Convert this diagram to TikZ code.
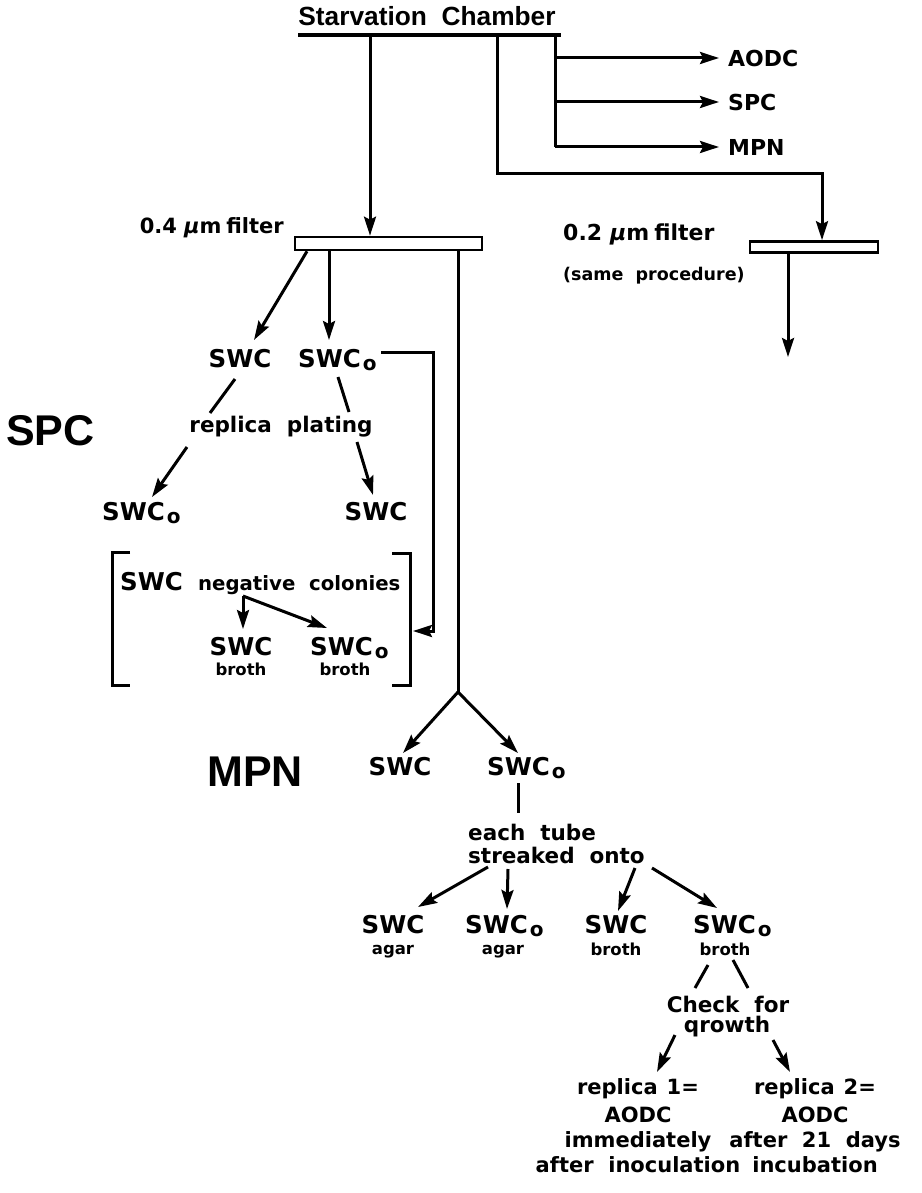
\documentclass[tikz,border=0pt]{standalone}
\usepackage{fontspec}
\setmainfont{DejaVu Sans}[WordSpace=2]
\newfontfamily\helv{Liberation Sans}[WordSpace=2]
\usetikzlibrary{arrows.meta}
\newcommand{\fsz}[1]{\fontsize{#1}{#1}\selectfont}
\newcommand{\osub}{\kern2pt\raisebox{-3.5pt}{\fsz{20}o}}
\newcommand{\mumu}{{\itshape µ}}
\begin{document}
\begin{tikzpicture}[x=1pt,y=-1pt,
  lbl/.style={font=\bfseries\fsz{24.5},inner sep=0pt},
  mid/.style={font=\bfseries\fsz{21.5},inner sep=0pt},
  btm/.style={font=\bfseries\fsz{21},inner sep=0pt},
  sm/.style={font=\bfseries\fsz{16.5},inner sep=0pt},
  big/.style={font=\helv\bfseries\fsz{43},inner sep=0pt},
  ln/.style={line width=3pt},
  arr/.style={ln,-{Stealth[length=19pt,width=12pt,inset=3pt]}},
  filt/.style={draw,line width=2.6pt,inner sep=0pt}]
\useasboundingbox (0,0) rectangle (921,1193);

% header
\node[font=\helv\bfseries\fsz{26.3},inner sep=0pt,anchor=base] (sc) at (427,26) {Starvation Chamber};
\coordinate (barL) at (298,35);
\coordinate (barR) at (561,35);
\draw[line width=4pt] (barL) -- (barR);
\coordinate (b1) at (370,35);
\coordinate (b2) at (497,35);
\coordinate (b3) at (555,35);

% right outputs
\node[font=\bfseries\fsz{22},inner sep=0pt,anchor=west] (aodc) at (728,58) {AODC};
\node[font=\bfseries\fsz{22},inner sep=0pt,anchor=west] (spc) at (728,102) {SPC};
\node[font=\bfseries\fsz{22},inner sep=0pt,anchor=west] (mpn) at (728,147) {MPN};
\draw[ln] (b3) -- (b3 |- mpn);
\draw[arr] (b3 |- aodc) -- ([xshift=-9pt]aodc.west);
\draw[arr] (b3 |- spc) -- ([xshift=-9pt]spc.west);
\draw[arr] (b3 |- mpn) -- ([xshift=-9pt]mpn.west);

% 0.2 filter branch
\coordinate (c2) at (497,174);
\coordinate (c3) at (822,174);
\node[filt,minimum width=128pt,minimum height=11pt] (f02) at (814,247) {};
\draw[arr] (b2) -- (c2) -- (c3) -- (c3 |- f02.north);
\node[font=\bfseries\fsz{22},inner sep=0pt,anchor=base west] (t02) at (563,240) {0.2\kern8pt\mumu m\kern5pt filter};
\node[font=\bfseries\fsz{17.5},inner sep=0pt,anchor=base west] (same) at (563,280) {(same procedure)};
\coordinate (o02) at (788,357);
\draw[arr] (f02.south -| o02) -- (o02);

% 0.4 filter
\node[filt,minimum width=187pt,minimum height=13pt] (f04) at (388.5,243.5) {};
\draw[arr] (b1) -- (b1 |- f04.north);
\node[font=\bfseries\fsz{21},inner sep=0pt,anchor=base east] (t04) at (284,233) {0.4\kern7pt\mumu m\kern5pt filter};
\coordinate (d1) at (307,250);
\coordinate (d2) at (329,250);
\coordinate (yj) at (458,692);

% SPC part
\node[big,anchor=base west] (SPC) at (6,445) {SPC};
\node[lbl,anchor=base] (swcA) at (240,367) {SWC};
\node[lbl,anchor=base west] (swcoA) at (298,367) {SWC\osub};
\coordinate (p1) at (254,340);
\coordinate (p2) at (329,340);
\draw[arr] (f04.south -| d1) -- (p1);
\draw[arr] (f04.south -| d2) -- (p2);

\coordinate (k1) at (381,352);
\coordinate (k2) at (433,352);
\coordinate (k3) at (433,631);
\coordinate (k4) at (413,631);
\draw[arr] (k1) -- (k2) -- (k3) -- (k4);

\node[mid,anchor=base] (rp) at (281,432) {replica plating};
\coordinate (r1a) at (235,379); \coordinate (r1b) at (210,413);
\coordinate (r2a) at (187,447); \coordinate (r2b) at (152,497);
\coordinate (r3a) at (338,377); \coordinate (r3b) at (349,412);
\coordinate (r4a) at (357,442); \coordinate (r4b) at (373,495);
\draw[ln] (r1a) -- (r1b);
\draw[arr] (r2a) -- (r2b);
\draw[ln] (r3a) -- (r3b);
\draw[arr] (r4a) -- (r4b);
\node[lbl,anchor=base west] (swcoB) at (102,520) {SWC\osub};
\node[lbl,anchor=base] (swcB) at (376,520) {SWC};

% bracket
\draw[ln] (130,552) -- (112,552) -- (112,685) -- (130,685);
\draw[ln] (392,553) -- (410,553) -- (410,685) -- (392,685);
\node[lbl,anchor=base west] (swcN) at (120,590) {SWC};
\node[font=\bfseries\fsz{19.7},inner sep=0pt,anchor=base west] (neg) at (198,590) {negative colonies};
\coordinate (ng) at (243,596);
\coordinate (ng1) at (243,629);
\coordinate (ng2) at (327,628);
\draw[arr] (ng) -- (ng1);
\draw[arr] (ng) -- (ng2);
\node[lbl,anchor=base] (swcC) at (241,655) {SWC};
\node[sm,anchor=base] (brC) at (241,675) {broth};
\node[lbl,anchor=base west] (swcoC) at (310,655) {SWC\osub};
\node[sm,anchor=base] (brD) at (345,675) {broth};

% MPN part
\draw[ln] (f04.south -| yj) -- (yj);
\node[big,anchor=base] (MPN) at (255,786) {MPN};
\node[lbl,anchor=base] (swcE) at (400,775) {SWC};
\node[lbl,anchor=base west] (swcoE) at (487,775) {SWC\osub};
\coordinate (y1) at (403,753);
\coordinate (y2) at (518,753);
\draw[arr] (yj) -- (y1);
\draw[arr] (yj) -- (y2);
\coordinate (e1) at (518,783);
\coordinate (e2) at (518,813);
\draw[ln] (e1) -- (e2);
\node[mid,anchor=base west] (each) at (468,840) {each tube};
\node[mid,anchor=base west] (streak) at (468,863) {streaked onto};
\coordinate (s1a) at (488,867); \coordinate (s1b) at (418,907);
\coordinate (s2a) at (508,869); \coordinate (s2b) at (507,909);
\coordinate (s3a) at (635,868); \coordinate (s3b) at (618,911);
\coordinate (s4a) at (652,868); \coordinate (s4b) at (717,908);
\draw[arr] (s1a) -- (s1b);
\draw[arr] (s2a) -- (s2b);
\draw[arr] (s3a) -- (s3b);
\draw[arr] (s4a) -- (s4b);

\node[lbl,anchor=base] (swcF) at (393,933) {SWC};
\node[sm,anchor=base] (agF) at (393,954) {agar};
\node[lbl,anchor=base west] (swcoG) at (465,933) {SWC\osub};
\node[sm,anchor=base] (agG) at (503,954) {agar};
\node[lbl,anchor=base] (swcH) at (616,933) {SWC};
\node[sm,anchor=base] (brH) at (616,955) {broth};
\node[lbl,anchor=base west] (swcoI) at (693,933) {SWC\osub};
\node[sm,anchor=base] (brI) at (725,955) {broth};

\coordinate (g1a) at (708,965); \coordinate (g1b) at (695,988);
\coordinate (g2a) at (733,960); \coordinate (g2b) at (748,988);
\draw[ln] (g1a) -- (g1b);
\draw[ln] (g2a) -- (g2b);
\node[mid,anchor=base] (chk) at (728,1012) {Check for};
\node[mid,anchor=base] (grw) at (727,1032) {qrowth};
\coordinate (h1a) at (675,1035); \coordinate (h1b) at (657,1072);
\coordinate (h2a) at (773,1040); \coordinate (h2b) at (790,1072);
\draw[arr] (h1a) -- (h1b);
\draw[arr] (h2a) -- (h2b);

\node[btm,anchor=base] (ra1) at (638,1094) {replica\kern9pt 1=};
\node[btm,anchor=base] (ra2) at (638,1122) {AODC};
\node[btm,anchor=base] (ra3) at (638,1147) {immediately};
\node[btm,anchor=base] (ra4) at (638,1172) {after inoculation};
\node[btm,anchor=base] (rb1) at (815,1094) {replica\kern9pt 2=};
\node[btm,anchor=base] (rb2) at (815,1122) {AODC};
\node[btm,anchor=base] (rb3) at (815,1147) {after 21 days};
\node[btm,anchor=base] (rb4) at (815,1172) {incubation};
\end{tikzpicture}
\end{document}
